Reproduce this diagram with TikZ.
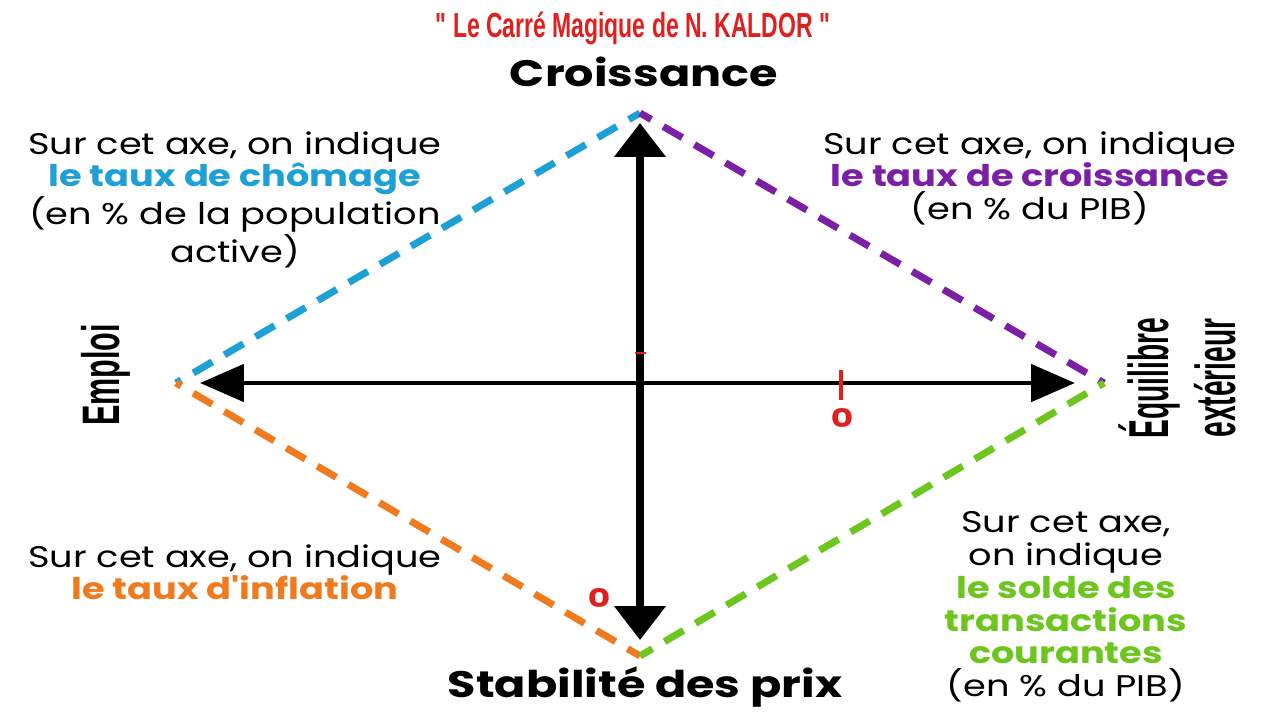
\documentclass[tikz,border=0pt]{standalone}
\usepackage{fontspec}
\setmainfont{Poppins}
\newfontfamily\bodyfont[FakeStretch=1.23]{Poppins}
\newfontfamily\headfont[FakeStretch=1.25]{Poppins}
\newfontfamily\zerofont[FakeStretch=1.35]{Poppins}
\newfontfamily\titlefont[FakeStretch=0.66]{Liberation Sans}
\newfontfamily\narrowfont[FakeStretch=0.58]{Liberation Sans}
\newfontfamily\narrowerfont[FakeStretch=0.5]{Liberation Sans}
\usetikzlibrary{arrows.meta}
\definecolor{cblue}{HTML}{1CA0D6}
\definecolor{cpurple}{HTML}{7A1FA6}
\definecolor{corange}{HTML}{F07A1E}
\definecolor{cgreen}{HTML}{6CC61E}
\definecolor{cred}{HTML}{E0201E}
\begin{document}
\begin{tikzpicture}[x=0.02cm,y=-0.02cm,
  bodytext/.style={inner sep=0pt,align=center,font=\bodyfont\fontsize{17}{18.7}\selectfont},
  axislabel/.style={inner sep=0pt,font=\headfont\fontsize{21}{24}\selectfont\bfseries},
  dashline/.style={line width=4pt,dash pattern=on 0.44cm off 0.28cm,dash phase=0.32cm},
  zero/.style={inner sep=0pt,text=cred,font=\zerofont\fontsize{14.5}{16}\selectfont\bfseries}]
\useasboundingbox (0,0) rectangle (1280,720);
\fill[white] (0,0) rectangle (1280,720);
% diamond vertices
\coordinate (T) at (640,113);
\coordinate (L) at (176,383);
\coordinate (R) at (1104,383);
\coordinate (B) at (640,656);
\coordinate (Ttip) at (640,123);
\coordinate (Btip) at (640,640);
\coordinate (Ltip) at (200,383);
\coordinate (Rtip) at (1075,383);
% dashed diamond
\draw[dashline,cblue] (L) -- (T);
\draw[dashline,cpurple] (R) -- (T);
\draw[dashline,corange] (L) -- (B);
\draw[dashline,cgreen] (R) -- (B);
% axes
\draw[line width=4.5pt,{Triangle[length=0.68cm,width=1.0cm]}-{Triangle[length=0.68cm,width=1.0cm]}] (Btip) -- (Ttip);
\draw[line width=2.8pt,{Triangle[length=0.88cm,width=0.74cm]}-{Triangle[length=0.88cm,width=0.74cm]}] (Ltip) -- (Rtip);
% ticks
\coordinate (tv1) at (635,353); \coordinate (tv2) at (646,353);
\draw[cred,line width=1.5pt] (tv1) -- (tv2);
\coordinate (th1) at (841,370); \coordinate (th2) at (841,400);
\draw[cred,line width=2.2pt] (th1) -- (th2);
\node[zero] (z1) at (842,418) {0};
\node[zero] (z2) at (599,598) {0};
% title and axis labels
\node[inner sep=0pt,text=cred,font=\titlefont\fontsize{19.8}{22}\selectfont\bfseries] (title) at (633,28) {" Le Carré Magique de N. KALDOR "};
\node[axislabel] (croiss) at (644,72) {Croissance};
\node[axislabel] (stab) at (645,687) {Stabilité des prix};
\node[inner sep=0pt,rotate=90,font=\narrowfont\fontsize{30}{38}\selectfont\bfseries] (emploi) at (106,375) {Emploi};
\node[inner sep=0pt,align=center,rotate=90,font=\narrowerfont\fontsize{32}{38}\selectfont\bfseries] (equil) at (1177,378) {Équilibre\\extérieur};
% text blocks
\node[bodytext,anchor=north] (tl) at (235,131) {Sur cet axe, on indique\\\textcolor{cblue}{\bfseries le taux de chômage}\\(en \% de la population\\active)};
\node[bodytext,anchor=north] (tr) at (1030,131) {Sur cet axe, on indique\\\textcolor{cpurple}{\bfseries le taux de croissance}\\(en \% du PIB)};
\node[bodytext,anchor=north] (bl) at (235,544) {Sur cet axe, on indique\\\textcolor{corange}{\bfseries le taux d'inflation}};
\node[bodytext,anchor=north] (br) at (1066,511) {Sur cet axe,\\on indique\\\textcolor{cgreen}{\bfseries le solde des}\\\textcolor{cgreen}{\bfseries transactions}\\\textcolor{cgreen}{\bfseries courantes}\\(en \% du PIB)};
\end{tikzpicture}
\end{document}
